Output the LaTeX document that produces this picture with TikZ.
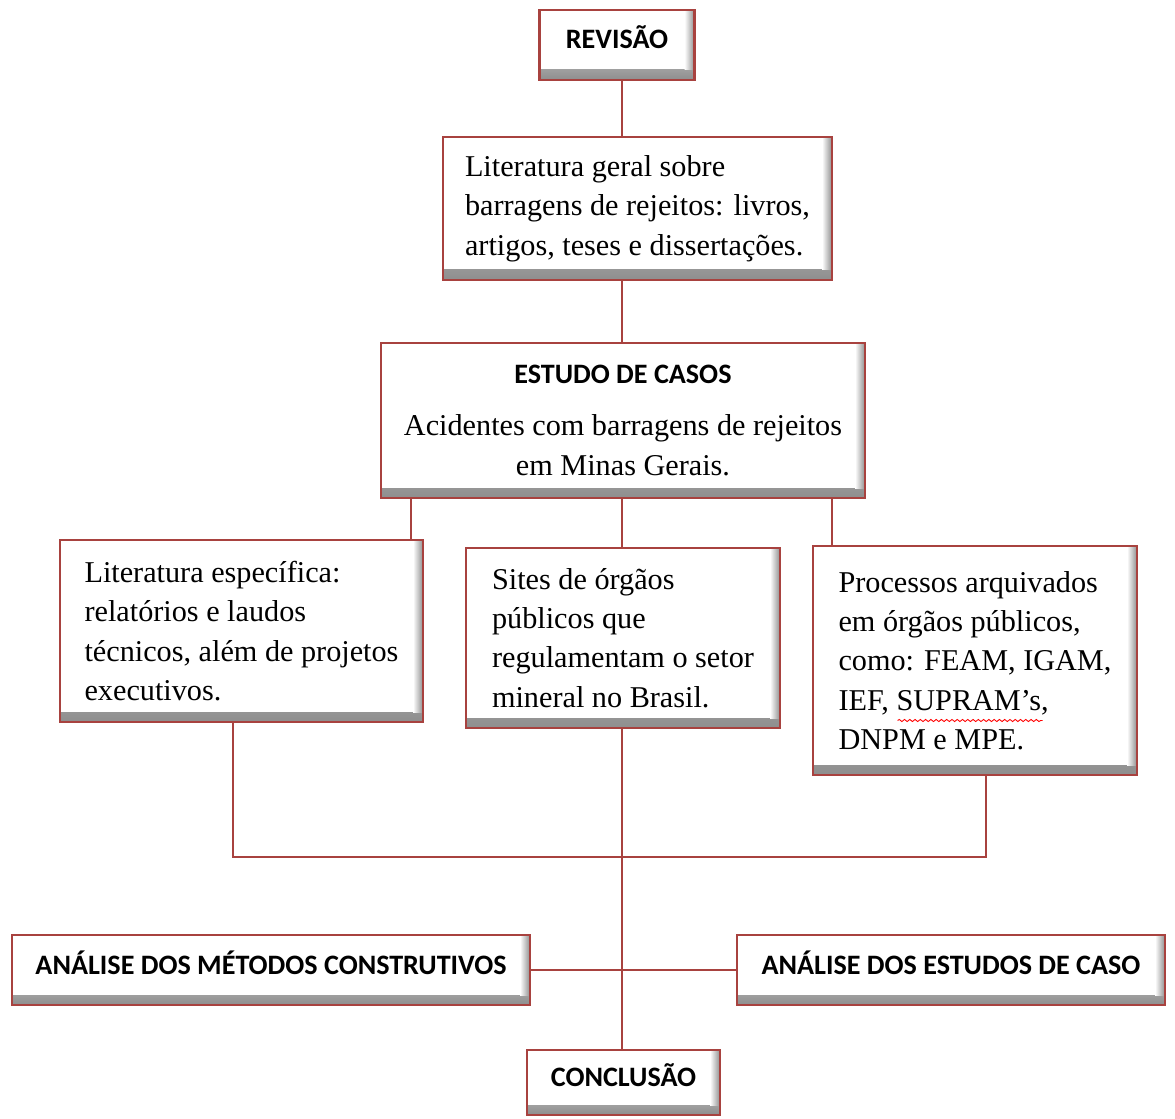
\documentclass[tikz,border=0pt]{standalone}
\usepackage{fontspec}
\setmainfont{Liberation Serif}
\setsansfont{Carlito}
\usetikzlibrary{positioning, backgrounds, decorations.pathmorphing}
\definecolor{bxred}{HTML}{A8423F}
\definecolor{bxshade}{HTML}{8E8E8E}

\begin{document}
\begin{tikzpicture}[
  box/.style={rectangle, draw=bxred, line width=1.6pt, fill=white, inner sep=0pt,
    path picture={
      \shade[top color=white, bottom color=bxshade] ([yshift=0.2cm]path picture bounding box.south west) rectangle (path picture bounding box.south east);
      \shade[left color=white, right color=bxshade] ([xshift=-0.2cm]path picture bounding box.north east) rectangle ([yshift=0.2cm]path picture bounding box.south east);
    }},
  titlebox/.style={box, text depth=0.3cm, font=\fontsize{16}{19}\selectfont\sffamily\bfseries},
  textbox/.style={box, align=left, font=\fontsize{17.2}{22.4}\selectfont},
  link/.style={bxred, line width=1.4pt},
  spell/.style={red, line width=0.5pt, decorate, decoration={snake, amplitude=0.6pt, segment length=3pt}},
]
\useasboundingbox (0,0) rectangle (23.5,-22.38);

% Boxes
\node[titlebox, minimum width=3.1cm, minimum height=1.4cm] (revisao) at (12.34,-0.9) {REVISÃO};
\node[textbox, minimum width=7.78cm, minimum height=2.86cm] (litgeral) at (12.75,-4.17) {Literatura geral sobre\\barragens de rejeitos: livros,\\artigos, teses e dissertações.};
\node[textbox, align=center, minimum width=9.68cm, minimum height=3.1cm] (estudo) at (12.46,-8.41) {{\fontsize{16}{19}\sffamily\bfseries ESTUDO DE CASOS}\\[7pt]Acidentes com barragens de rejeitos\\em Minas Gerais.};

\node[textbox, minimum width=7.26cm, minimum height=3.64cm] (litesp) at (4.83,-12.62) {Literatura específica:\\relatórios e laudos\\técnicos, além de projetos\\executivos.};
\node[textbox, minimum width=6.28cm, minimum height=3.6cm] (sites) at (12.46,-12.76) {Sites de órgãos\\públicos que\\regulamentam o setor\\mineral no Brasil.};
\node[textbox, minimum width=6.48cm, minimum height=4.58cm] (processos) at (19.5,-13.21) {Processos arquivados\\em órgãos públicos,\\como: FEAM, IGAM,\\IEF, SUPRAM’s,\\DNPM e MPE.};
\draw[spell] ([shift={(1.72,-1.2)}]processos.west) -- ++(2.9,0);

\node[titlebox, minimum width=10.36cm, minimum height=1.4cm] (metodos) at (5.42,-19.4) {ANÁLISE DOS MÉTODOS CONSTRUTIVOS};
\node[titlebox, minimum width=8.56cm, minimum height=1.4cm] (estudos) at (19.02,-19.4) {ANÁLISE DOS ESTUDOS DE CASO};
\node[titlebox, minimum width=3.86cm, minimum height=1.3cm] (conclusao) at (12.47,-21.65) {CONCLUSÃO};

% Connector guides
\coordinate (spine) at (12.44,0);
\coordinate (dropl) at (8.22,0);
\coordinate (dropr) at (16.64,0);
\coordinate (mergel) at (4.66,0);
\coordinate (merger) at (19.72,0);
\coordinate (junc) at (12.44,-17.14);

% Connectors
\begin{scope}[on background layer]
\draw[link] (revisao.south -| spine) -- (litgeral.north -| spine);
\draw[link] (litgeral.south -| spine) -- (estudo.north -| spine);
\draw[link] (estudo.south -| dropl) -- (litesp.north -| dropl);
\draw[link] (estudo.south -| spine) -- (sites.north -| spine);
\draw[link] (estudo.south -| dropr) -- (processos.north -| dropr);
\draw[link] (litesp.south -| mergel) |- (junc) -| (processos.south -| merger);
\draw[link] (sites.south -| spine) -- (conclusao.north -| spine);
\draw[link] (metodos) -- (estudos);
\end{scope}

\end{tikzpicture}
\end{document}
